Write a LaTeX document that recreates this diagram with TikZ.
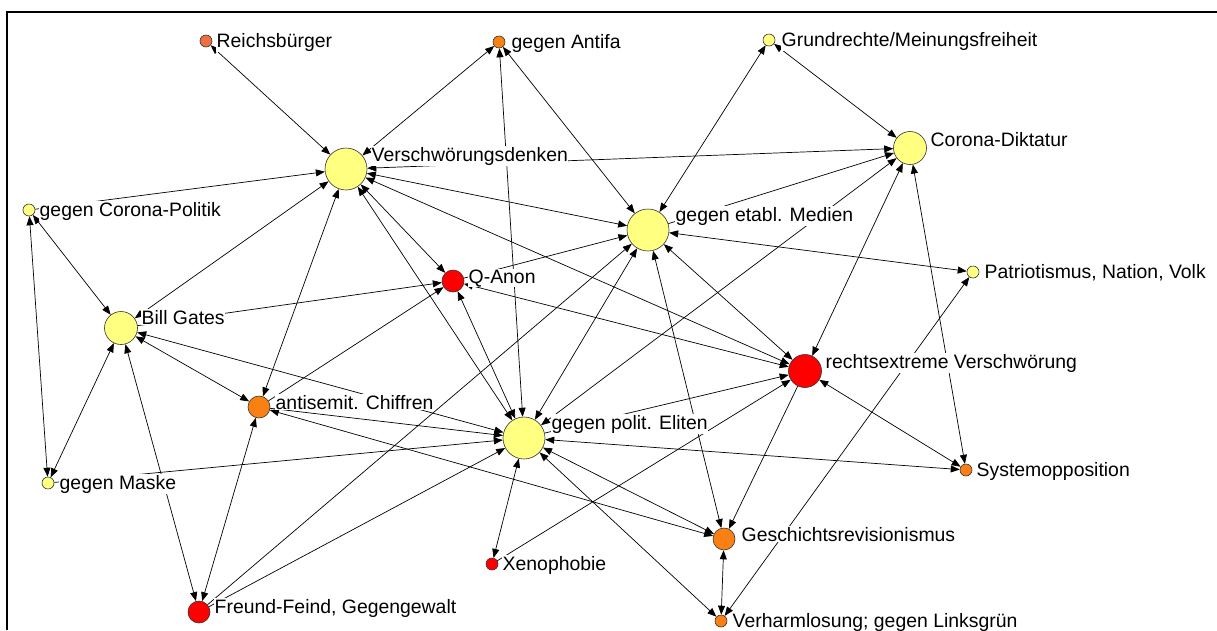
\documentclass[tikz,border=0pt]{standalone}
\usepackage{fontspec}
\setmainfont{Liberation Sans}
\usetikzlibrary{arrows.meta}
\definecolor{ylw}{RGB}{255,255,128}
\definecolor{rd}{RGB}{255,0,0}
\definecolor{org}{RGB}{250,128,20}
\definecolor{rorg}{RGB}{238,112,64}
\begin{document}
\begin{tikzpicture}[x=1pt,y=-1pt,
  nd/.style={circle,draw=black!80,line width=0.6pt,inner sep=0pt},
  bigY/.style={nd,fill=ylw,minimum size=42pt},
  midY/.style={nd,fill=ylw,minimum size=33pt},
  midR/.style={nd,fill=rd,minimum size=33pt},
  smR/.style={nd,fill=rd,minimum size=22pt},
  smO/.style={nd,fill=org,minimum size=22pt},
  tinyY/.style={nd,fill=ylw,minimum size=12pt},
  tinyO/.style={nd,fill=org,minimum size=12pt},
  tinyR/.style={nd,fill=rd,minimum size=12pt},
  lbl/.style={anchor=base west,fill=white,inner sep=0.5pt,font=\fontsize{19.4}{22}\selectfont},
  uni/.style={line width=0.7pt,-{Triangle[length=9pt,width=7pt]}},
  bi/.style={line width=0.7pt,{Triangle[length=9pt,width=7pt]}-{Triangle[length=9pt,width=7pt]}}
]
\useasboundingbox (0,0) rectangle (1217,630);
\fill[white] (0,0) rectangle (1217,630);
\draw[line width=2pt] (7,630) -- (7,12) -- (1217,12);

% nodes
\node[tinyO,fill=rorg] (RB) at (206,41) {};
\node[tinyO] (GA) at (499,42) {};
\node[tinyY] (GR) at (769,40) {};
\node[bigY] (VD) at (346,169) {};
\node[midY] (CD) at (910,148) {};
\node[tinyY] (GCP) at (29,210) {};
\node[bigY] (EM) at (648,230) {};
\node[smR] (QA) at (453,281) {};
\node[tinyY] (PNV) at (973,272) {};
\node[midY] (BG) at (121,328) {};
\node[midR] (RV) at (805,371) {};
\node[smO] (AC) at (259,407) {};
\node[bigY] (PE) at (524,438) {};
\node[tinyO] (SO) at (966,470) {};
\node[tinyY] (GM) at (48,483) {};
\node[smO] (GRv) at (724,539) {};
\node[tinyR] (XE) at (492,564) {};
\node[smR] (FF) at (199,612) {};
\node[tinyO] (VL) at (721,621) {};

% edges
\draw[bi] (RB) -- (VD);
\draw[bi] (VD) -- (GA);
\draw[uni] (GCP) -- (VD);
\draw[bi] (BG) -- (VD);
\draw[bi] (VD) -- (AC);
\draw[bi] (VD) -- (PE);
\draw[bi] (VD) -- (QA);
\draw[bi] (VD) -- (EM);
\draw[bi] (CD) -- (VD);
\draw[bi] (RV) -- (VD);
\draw[bi] (GA) -- (PE);
\draw[bi] (GA) -- (EM);
\draw[bi] (GR) -- (EM);
\draw[bi] (GR) -- (CD);
\draw[uni] (EM) -- (CD);
\draw[bi] (PE) -- (CD);
\draw[bi] (RV) -- (CD);
\draw[bi] (CD) -- (SO);
\draw[bi] (EM) -- (PNV);
\draw[uni] (QA) -- (EM);
\draw[bi] (RV) -- (EM);
\draw[uni] (FF) -- (EM);
\draw[bi] (PE) -- (EM);
\draw[bi] (GRv) -- (EM);
\draw[bi] (GCP) -- (BG);
\draw[bi] (GCP) -- (GM);
\draw[bi] (BG) -- (GM);
\draw[bi] (BG) -- (FF);
\draw[bi] (BG) -- (AC);
\draw[bi] (PE) -- (BG);
\draw[uni] (BG) -- (QA);
\draw[uni] (AC) -- (QA);
\draw[bi] (AC) -- (FF);
\draw[uni] (AC) -- (PE);
\draw[bi] (AC) -- (GRv);
\draw[uni] (GM) -- (PE);
\draw[uni] (FF) -- (PE);
\draw[bi] (QA) -- (PE);
\draw[bi] (QA) -- (RV);
\draw[uni] (PE) -- (RV);
\draw[bi] (PE) -- (SO);
\draw[bi] (PE) -- (GRv);
\draw[bi] (PE) -- (VL);
\draw[bi] (PE) -- (XE);
\draw[uni] (XE) -- (RV);
\draw[bi] (RV) -- (SO);
\draw[uni] (RV) -- (GRv);
\draw[bi] (GRv) -- (VL);
\draw[bi] (VL) -- (PNV);

% labels
\node[lbl] (tRB) at (216,47.5) {Reichsbürger};
\node[lbl] (tGA) at (511,48) {gegen Antifa};
\node[lbl] (tGR) at (781,46) {Grundrechte/Meinungsfreiheit};
\node[lbl] (tVD) at (371,161) {Verschwörungsdenken};
\node[lbl] (tCD) at (930,146) {Corona-Diktatur};
\node[lbl] (tGCP) at (39,216) {gegen Corona-Politik};
\node[lbl] (tEM) at (675,221) {gegen etabl. Medien};
\node[lbl] (tQA) at (468,283) {Q-Anon};
\node[lbl] (tPNV) at (984,278) {Patriotismus, Nation, Volk};
\node[lbl] (tBG) at (141,324) {Bill Gates};
\node[lbl] (tRV) at (825,368) {rechtsextreme Verschwörung};
\node[lbl] (tAC) at (275,409) {antisemit. Chiffren};
\node[lbl] (tPE) at (551,429) {gegen polit. Eliten};
\node[lbl] (tSO) at (976,476) {Systemopposition};
\node[lbl] (tGM) at (59,489) {gegen Maske};
\node[lbl] (tGRv) at (741,541) {Geschichtsrevisionismus};
\node[lbl] (tXE) at (502,570) {Xenophobie};
\node[lbl] (tFF) at (214,613) {Freund-Feind, Gegengewalt};
\node[lbl] (tVL) at (732,627) {Verharmlosung; gegen Linksgrün};
\end{tikzpicture}
\end{document}
